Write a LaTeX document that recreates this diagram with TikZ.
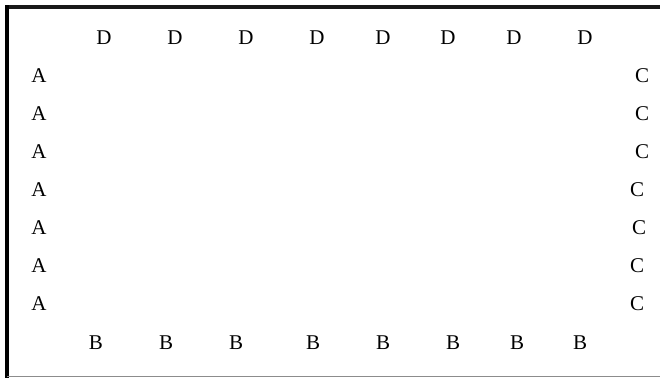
\documentclass[tikz,border=0pt]{standalone}
\usepackage{fontspec}
\setmainfont{Liberation Serif}
\begin{document}
\begin{tikzpicture}[x=1pt,y=-1pt,
  lbl/.style={inner sep=0pt,font=\fontsize{21}{24}\selectfont}]
\useasboundingbox (0,0) rectangle (660,378);
\fill[white] (0,0) rectangle (660,378);
% frame
\draw[line width=4pt,black!90] (5,7) -- (660,7);
\draw[line width=4pt,black] (7,5) -- (7,378);
\draw[line width=1.5pt,black!45] (7,376.5) -- (660,376.5);
% D row
\foreach \x [count=\i] in {104,175,246,317,383,448,514,585}
  \node[lbl] (d\i) at (\x,38) {D};
% B row
\foreach \x [count=\i] in {96,166,236,313,383,453,517,580}
  \node[lbl] (b\i) at (\x,343) {B};
% A column
\foreach \y [count=\i] in {76,114,152,190,228,266,304}
  \node[lbl] (a\i) at (39,\y) {A};
% C column
\foreach \y/\x [count=\i] in {76/642,114/642,152/642,190/637,228/639,266/637,304/637}
  \node[lbl] (c\i) at (\x,\y) {C};
\end{tikzpicture}
\end{document}
